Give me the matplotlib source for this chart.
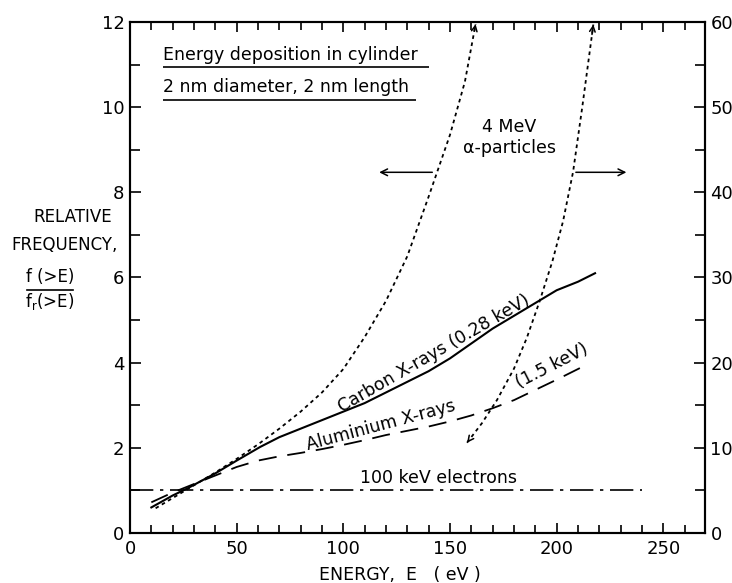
import numpy as np
import matplotlib
matplotlib.use("Agg")
import matplotlib.pyplot as plt
from matplotlib.ticker import MultipleLocator

# Carbon X-rays (0.28 keV), left scale
carbon_e = [10, 20, 27, 40, 50, 61, 70, 80, 90, 100, 110, 120, 130, 140, 150,
            160, 170, 180, 190, 200, 210, 218]
carbon_f = [0.6, 0.88, 1.05, 1.4, 1.7, 2.02, 2.25, 2.45, 2.65, 2.85, 3.05, 3.3,
            3.55, 3.8, 4.1, 4.45, 4.8, 5.1, 5.4, 5.7, 5.9, 6.1]

# Aluminium X-rays (1.5 keV), left scale
alum_e = [10, 20, 30, 40, 50, 60, 70, 80, 90, 100, 110, 120, 130, 140, 150,
          160, 170, 180, 190, 200, 212]
alum_f = [0.72, 0.95, 1.15, 1.35, 1.55, 1.7, 1.8, 1.88, 1.97, 2.07, 2.18, 2.3,
          2.4, 2.5, 2.62, 2.76, 2.93, 3.12, 3.36, 3.6, 3.9]

# 4 MeV alpha-particles, left scale
alpha_l_e = [12, 20, 30, 40, 50, 60, 70, 80, 90, 100, 110, 120, 130, 140,
             150, 157, 162]
alpha_l_f = [0.58, 0.82, 1.12, 1.42, 1.74, 2.08, 2.45, 2.85, 3.3, 3.85, 4.6,
             5.45, 6.5, 7.9, 9.35, 10.6, 11.95]

# 4 MeV alpha-particles, right scale
alpha_r_e = [158, 165, 172, 180, 186, 192, 198, 203, 207.7, 212, 217.2]
alpha_r_f = [10.6, 12.9, 15.6, 19.3, 22.9, 27.2, 31.9, 36.6, 42.4, 50, 59.7]

# 100 keV electrons
elec_e = [0, 240]
elec_f = [1.0, 1.0]

plt.rcParams['font.family'] = ['DejaVu Sans']
fig = plt.figure(figsize=(7.32, 5.83), dpi=100)
ax = fig.add_axes([0.1776, 0.0858, 0.7854, 0.8765])
ax2 = ax.twinx()

k = 'black'
ax.plot(carbon_e, carbon_f, color=k, lw=1.5)
ax.plot(alum_e, alum_f, color=k, lw=1.3, linestyle=(0, (10, 6)))
ax.plot(alpha_l_e, alpha_l_f, color=k, lw=1.3, linestyle=(0, (2, 2)))
ax.plot(elec_e, elec_f, color=k, lw=1.2, linestyle=(0, (14, 4, 2, 4)))
ax2.plot(alpha_r_e, alpha_r_f, color=k, lw=1.3, linestyle=(0, (2, 2)))


def head(a, xs, ys, i, j):
    # small open arrow head at point i, pointing away from point j
    x0, y0 = xs[i], ys[i]
    x1 = x0 + 0.12 * (xs[j] - x0)
    y1 = y0 + 0.12 * (ys[j] - y0)
    a.annotate('', xy=(x0, y0), xytext=(x1, y1),
               arrowprops=dict(arrowstyle='->', color=k, lw=1.1, mutation_scale=10,
                               shrinkA=0, shrinkB=0))


head(ax, alpha_l_e, alpha_l_f, -1, -2)
head(ax2, alpha_r_e, alpha_r_f, -1, -2)
head(ax2, alpha_r_e, alpha_r_f, 0, 1)

# scale arrows
ax.annotate('', xy=(115.5, 8.47), xytext=(143, 8.47),
            arrowprops=dict(arrowstyle='->', color=k, lw=1.1, mutation_scale=12))
ax.annotate('', xy=(234, 8.47), xytext=(207.7, 8.47),
            arrowprops=dict(arrowstyle='->', color=k, lw=1.1, mutation_scale=12))

ax.set_xlim(0, 269.5)
ax.set_ylim(0, 12)
ax2.set_ylim(0, 60)

ax.xaxis.set_major_locator(MultipleLocator(50))
ax.xaxis.set_minor_locator(MultipleLocator(10))
ax.yaxis.set_major_locator(MultipleLocator(2))
ax.yaxis.set_minor_locator(MultipleLocator(1))
ax2.yaxis.set_major_locator(MultipleLocator(10))
ax2.yaxis.set_minor_locator(MultipleLocator(5))

ax.tick_params(axis='x', which='both', direction='in', top=True, labelsize=13, pad=5)
ax.tick_params(axis='x', which='major', length=7, width=1.2)
ax.tick_params(axis='x', which='minor', length=6, width=1.2)
ax.tick_params(axis='y', which='both', direction='in', labelsize=13, pad=4)
ax.tick_params(axis='y', which='major', length=8, width=1.2)
ax.tick_params(axis='y', which='minor', length=7, width=1.2)
ax2.tick_params(axis='y', which='both', direction='in', labelsize=13, pad=4)
ax2.tick_params(axis='y', which='major', length=8, width=1.2)
ax2.tick_params(axis='y', which='minor', length=7, width=1.2)
for a in (ax, ax2):
    for s in a.spines.values():
        s.set_linewidth(1.5)

# texts
ax.text(15.5, 11.22, 'Energy deposition in cylinder', fontsize=12.5, va='center', ha='left')
ax.text(15.5, 10.47, '2 nm diameter, 2 nm length', fontsize=12.5, va='center', ha='left')
ax.hlines([10.94, 10.16], [15.5, 15.5], [140, 134], colors=k, lw=1.2)

ax.text(177.7, 9.53, '4 MeV', fontsize=12.5, ha='center', va='center')
ax.text(177.7, 9.04, 'α-particles', fontsize=12.5, ha='center', va='center')

ax.text(142.5, 4.2, 'Carbon X-rays (0.28 keV)', fontsize=12.5, rotation=30,
        ha='center', va='center', rotation_mode='anchor')
ax.text(117.7, 2.52, 'Aluminium X-rays', fontsize=12.5, rotation=15,
        ha='center', va='center', rotation_mode='anchor')
ax.text(198, 3.92, '(1.5 keV)', fontsize=12.5, rotation=27,
        ha='center', va='center', rotation_mode='anchor')
ax.text(144.4, 1.3, '100 keV electrons', fontsize=12.5, ha='center', va='center')

# axis labels
fig.text(112 / 732, 1 - 217 / 583, 'RELATIVE', fontsize=12, ha='right', va='center')
fig.text(118 / 732, 1 - 245 / 583, 'FREQUENCY,', fontsize=12, ha='right', va='center')
fig.text(50 / 732, 1 - 277 / 583, 'f (>E)', fontsize=12, ha='center', va='center')
fig.text(50 / 732, 1 - 302 / 583, r'f$_\mathregular{r}$(>E)', fontsize=12, ha='center', va='center')
fig.add_artist(plt.Line2D([27 / 732, 73 / 732], [1 - 290 / 583, 1 - 290 / 583], color=k, lw=1.2))
fig.text(400 / 732, 1 - 575 / 583, 'ENERGY,  E   ( eV )', fontsize=12.5, ha='center', va='center')

fig.savefig('out.png', dpi=100)
